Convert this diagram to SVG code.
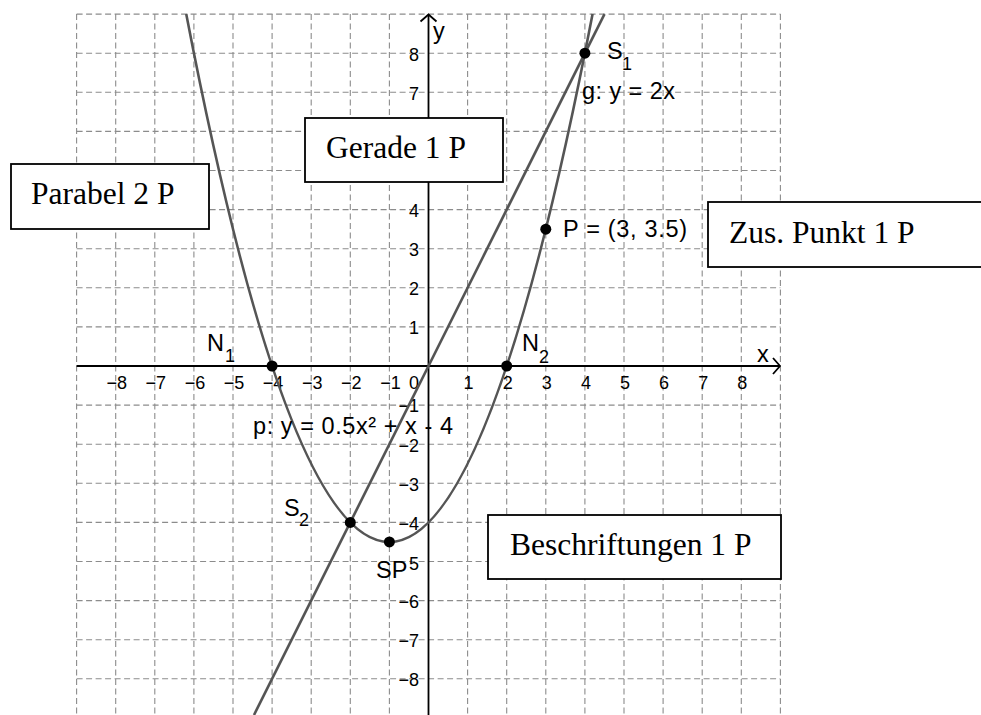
<svg xmlns="http://www.w3.org/2000/svg" width="981" height="715" viewBox="0 0 981 715">
<style>
.grid{stroke:#8c8c8c;stroke-width:1.1;stroke-dasharray:6 3.5;fill:none}
.axis{stroke:#000;stroke-width:1.8;fill:none}
.curve{stroke:#555;stroke-width:2.6;fill:none}
.dot{fill:#000}
.tick{font-family:"Liberation Sans",Arial,sans-serif;font-size:18px;fill:#000}
.lbl{font-family:"Liberation Sans",Arial,sans-serif;font-size:23.5px;fill:#000}
.sub{font-family:"Liberation Sans",Arial,sans-serif;font-size:18px;fill:#000}
.box{fill:#fff;stroke:#000;stroke-width:1.8}
.boxt{font-family:"Liberation Serif","Times New Roman",serif;font-size:31.5px;fill:#000}
</style>
<rect width="981" height="715" fill="#fff"/>
<g id="grid" class="grid">
<path d="M76.6 14.1V715M115.7 14.1V715M154.8 14.1V715M193.9 14.1V715M233 14.1V715M272.1 14.1V715M311.2 14.1V715M350.3 14.1V715M389.4 14.1V715M467.6 14.1V715M506.7 14.1V715M545.8 14.1V715M584.9 14.1V715M624 14.1V715M663.1 14.1V715M702.2 14.1V715M741.3 14.1V715M780.4 14.1V715"/>
<path d="M76.6 14.1H780.4M76.6 53.2H780.4M76.6 92.3H780.4M76.6 131.4H780.4M76.6 170.5H780.4M76.6 209.6H780.4M76.6 248.7H780.4M76.6 287.8H780.4M76.6 326.9H780.4M76.6 405.1H780.4M76.6 444.2H780.4M76.6 483.3H780.4M76.6 522.4H780.4M76.6 561.5H780.4M76.6 600.6H780.4M76.6 639.7H780.4M76.6 678.8H780.4"/>
</g>
<g id="axes">
<path class="axis" d="M76.6 366H780M428.5 715V14.5"/>
<path class="axis" d="M420.5 21.5L428.5 14.5L436.5 21.5M773 358L780 366L773 374"/>
<text class="lbl" x="433" y="39">y</text>
<text class="lbl" x="757" y="362">x</text>
<g class="tick" text-anchor="middle">
<text x="116.7" y="389">−8</text>
<text x="155.8" y="389">−7</text>
<text x="194.9" y="389">−6</text>
<text x="234" y="389">−5</text>
<text x="273.1" y="389">−4</text>
<text x="312.2" y="389">−3</text>
<text x="351.3" y="389">−2</text>
<text x="390.4" y="389">−1</text>
<text x="468.6" y="389">1</text>
<text x="507.7" y="389">2</text>
<text x="546.8" y="389">3</text>
<text x="585.9" y="389">4</text>
<text x="625" y="389">5</text>
<text x="664.1" y="389">6</text>
<text x="703.2" y="389">7</text>
<text x="742.3" y="389">8</text>
</g>
<g class="tick" text-anchor="end">
<text x="419" y="389">0</text>
<text x="419" y="60.7">8</text>
<text x="419" y="99.8">7</text>
<text x="419" y="217.1">4</text>
<text x="419" y="256.2">3</text>
<text x="419" y="295.3">2</text>
<text x="419" y="334.4">1</text>
<text x="419" y="412">−1</text>
<text x="419" y="451.7">−2</text>
<text x="419" y="490.8">−3</text>
<text x="419" y="529.9">−4</text>
<text x="419" y="569.5">5</text>
<text x="419" y="608.1">−6</text>
<text x="419" y="647.2">−7</text>
<text x="419" y="686.3">−8</text>
</g>
</g>
<g id="connectors">
<path id="parabola" class="curve" d="M186.23 14.1Q389.4 1069.9 592.57 14.1"/>
<path id="line-g" class="curve" d="M604.45 14.1L253.98 715"/>
</g>
<g id="N1"><circle class="dot" cx="272.1" cy="366" r="5.5"/><text class="lbl" x="207" y="351">N</text><text class="sub" x="225" y="362">1</text></g>
<g id="N2"><circle class="dot" cx="506.7" cy="366" r="5.5"/><text class="lbl" x="522" y="351">N</text><text class="sub" x="539" y="363">2</text></g>
<g id="S1"><circle class="dot" cx="584.9" cy="53.2" r="5.5"/><text class="lbl" x="607" y="59">S</text><text class="sub" x="622" y="70">1</text></g>
<g id="S2"><circle class="dot" cx="350.3" cy="522.4" r="5.5"/><text class="lbl" x="284" y="516">S</text><text class="sub" x="299" y="526">2</text></g>
<g id="SP"><circle class="dot" cx="389.4" cy="541.95" r="5.5"/><text class="lbl" x="376" y="578">SP</text></g>
<g id="P"><circle class="dot" cx="545.8" cy="229.15" r="5.5"/><text class="lbl" x="563" y="237" textLength="124" lengthAdjust="spacing">P = (3, 3.5)</text></g>
<g id="label-g"><text class="lbl" x="582" y="99" textLength="93" lengthAdjust="spacing">g: y = 2x</text></g>
<g id="label-p"><text class="lbl" x="253" y="434" textLength="200" lengthAdjust="spacing">p: y = 0.5x² + x - 4</text></g>
<g id="box-parabel"><rect class="box" x="11" y="164" width="198" height="65"/><text class="boxt" x="31" y="204">Parabel 2 P</text></g>
<g id="box-gerade"><rect class="box" x="305" y="118" width="198" height="64"/><text class="boxt" x="326" y="158">Gerade 1 P</text></g>
<g id="box-punkt"><rect class="box" x="708" y="202" width="285" height="65"/><text class="boxt" x="729" y="243">Zus. Punkt 1 P</text></g>
<g id="box-beschriftungen"><rect class="box" x="488" y="515" width="293" height="64"/><text class="boxt" x="510" y="555">Beschriftungen 1 P</text></g>
</svg>
